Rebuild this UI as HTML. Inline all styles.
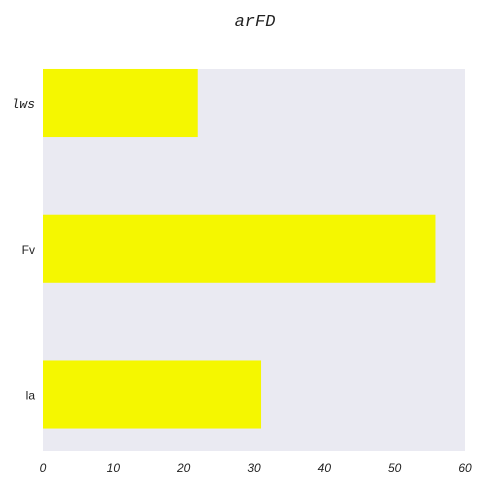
<!DOCTYPE html>
<html><head><meta charset="utf-8"><style>
html,body{margin:0;padding:0;background:#fff;width:483px;height:483px;overflow:hidden}
</style></head><body>
<svg width="483" height="483" id="chart">
<text x="255" y="26" text-anchor="middle" font-family="Liberation Mono, monospace" font-style="italic" font-size="17" fill="#222">arFD</text>
<rect x="43" y="69" width="422" height="382" fill="#eaeaf2"/>
<g id="bars"></g><g id="yt"></g><g id="xt"></g>
</svg>
<script>
const categories = ["la", "Fv", "lws"];
const values = [31, 55.8, 22];
const xTicks = [0, 10, 20, 30, 40, 50, 60];
const ns = "http://www.w3.org/2000/svg";
const x = v => 43 + (v / 60) * 422;
const y = i => 394.5 - 145.75 * i;
const bh = 0.467 * 145.75;
const bars = document.getElementById('bars'), yt = document.getElementById('yt'), xt = document.getElementById('xt');
categories.forEach((c, i) => {
  const r = document.createElementNS(ns, 'rect');
  r.setAttribute('x', x(0)); r.setAttribute('y', y(i) - bh / 2);
  r.setAttribute('width', x(values[i]) - x(0)); r.setAttribute('height', bh);
  r.setAttribute('fill', '#f5f700');
  
  
  bars.appendChild(r);
  const t = document.createElementNS(ns, 'text');
  t.setAttribute('x', 35); t.setAttribute('y', y(i) + 5);
  t.setAttribute('text-anchor', 'end'); t.setAttribute('fill', '#222');
  if (c === 'lws') { t.setAttribute('font-family', 'Liberation Mono, monospace'); t.setAttribute('font-style', 'italic'); t.setAttribute('font-size', '13'); }
  else { t.setAttribute('font-family', 'Liberation Sans, sans-serif'); t.setAttribute('font-size', '12'); }
  t.textContent = c;
  
  
  yt.appendChild(t);
});
xTicks.forEach(v => {
  const t = document.createElementNS(ns, 'text');
  t.setAttribute('x', x(v)); t.setAttribute('y', 472);
  t.setAttribute('text-anchor', 'middle'); t.setAttribute('font-size', '12'); t.setAttribute('fill', '#222');
  t.setAttribute('font-family', 'Liberation Sans, sans-serif'); t.setAttribute('font-style', 'italic');
  t.textContent = v;
  
  
  xt.appendChild(t);
});
</script>
</body></html>
